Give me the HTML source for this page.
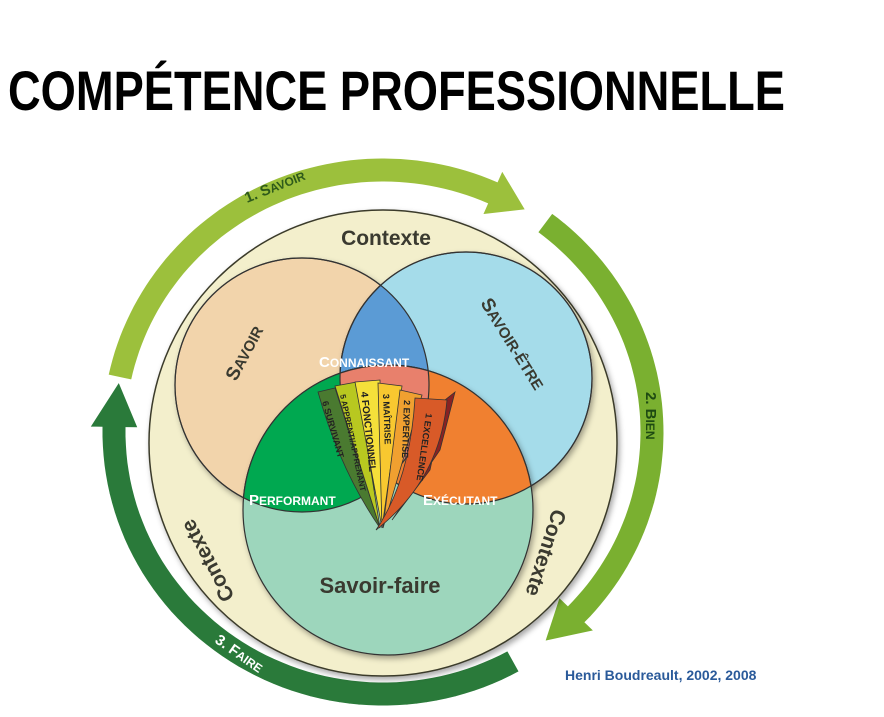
<!DOCTYPE html>
<html><head><meta charset="utf-8"><style>
html,body{margin:0;padding:0;background:#fff;width:884px;height:717px;overflow:hidden}
svg{display:block}
</style></head><body>
<svg id="s" width="884" height="717" viewBox="0 0 884 717" xmlns="http://www.w3.org/2000/svg" font-family="Liberation Sans, sans-serif">
<defs>
<clipPath id="cS"><circle cx="302" cy="385" r="127"/></clipPath>
<clipPath id="cE"><circle cx="466" cy="378" r="126"/></clipPath>
<clipPath id="cF"><circle cx="388" cy="510" r="145"/></clipPath>
<filter id="sh" x="-10%" y="-10%" width="120%" height="120%"><feDropShadow dx="2" dy="3" stdDeviation="3" flood-opacity="0.35"/></filter>
</defs>
<text x="8" y="110" font-size="56" font-weight="bold" textLength="777" lengthAdjust="spacingAndGlyphs" fill="#000">COMPÉTENCE PROFESSIONNELLE</text>
<g id="arrows"></g>
<ellipse cx="383" cy="443" rx="234" ry="233" fill="#f3efcc" stroke="#3a3a2a" stroke-width="1.5" filter="url(#sh)"/>
<circle cx="302" cy="385" r="127" fill="#f2d4ab" stroke="#333" stroke-width="1.2" filter="url(#sh)"/>
<circle cx="466" cy="378" r="126" fill="#a5dcea" stroke="#333" stroke-width="1.2" filter="url(#sh)"/>
<circle cx="388" cy="510" r="145" fill="#9dd6bc" stroke="#333" stroke-width="1.2" filter="url(#sh)"/>
<circle cx="466" cy="378" r="126" fill="#5b9bd5" stroke="#333" stroke-width="1.2" clip-path="url(#cS)"/>
<circle cx="388" cy="510" r="145" fill="#00a850" stroke="#333" stroke-width="1.2" clip-path="url(#cS)"/>
<circle cx="388" cy="510" r="145" fill="#f08030" stroke="#333" stroke-width="1.2" clip-path="url(#cE)"/>
<g clip-path="url(#cS)"><g clip-path="url(#cE)"><circle cx="388" cy="510" r="145" fill="#e8806c" stroke="#333" stroke-width="1.2"/></g></g>
<circle cx="302" cy="385" r="127" fill="none" stroke="#333" stroke-width="1.2"/>
<circle cx="466" cy="378" r="126" fill="none" stroke="#333" stroke-width="1.2"/>
<!-- fan -->
<g stroke="#333" stroke-width="0.8">
<polygon points="455,392 445,400 430,470 392,520 440,450" fill="#8a2222"/>
<path d="M318,392 L335,388 L380,528 Q340,470 318,392Z" fill="#4a7a30"/>
<path d="M335,386 L357,382 L380,528 L380,528Z" fill="#b8c820"/>
<path d="M355,382 L380,380 L382,528Z" fill="#f5e03a"/>
<path d="M378,383 L402,386 L382,528Z" fill="#f8c830"/>
<path d="M400,390 L422,395 L383,528Z" fill="#f0a030"/>
<path d="M415,398 L447,400 Q440,480 376,530 Q410,480 415,398Z" fill="#d85a28"/>
</g>
<g font-size="9" font-weight="bold" fill="#222">
<text transform="translate(322,402) rotate(74)">6 SURVIVANT</text>
<text transform="translate(340,395) rotate(78)" font-size="8">5 APPRENTI/APPRENANT</text>
<text transform="translate(361,392) rotate(84)" font-size="10">4 FONCTIONNEL</text>
<text transform="translate(383,394) rotate(88)">3 MAÎTRISE</text>
<text transform="translate(404,400) rotate(92)">2 EXPERTISE</text>
<text transform="translate(426,413) rotate(98)">1 EXCELLENCE</text>
</g>
<g font-weight="bold" fill="#fff" font-size="15">
<text x="319" y="367">C<tspan font-size="12">ONNAISSANT</tspan></text>
<text x="249" y="505">P<tspan font-size="12">ERFORMANT</tspan></text>
<text x="423" y="505">E<tspan font-size="12">XÉCUTANT</tspan></text>
</g>
<g font-weight="bold" fill="#3a3a30">
<text x="386" y="245" font-size="21" text-anchor="middle">Contexte</text>
<text x="380" y="593" font-size="22" text-anchor="middle">Savoir-faire</text>
<text transform="translate(236,382) rotate(-62)" font-size="19">S<tspan font-size="15">AVOIR</tspan></text>
<text transform="translate(480,303) rotate(58)" font-size="19">S<tspan font-size="15">AVOIR-ÊTRE</tspan></text>
<text transform="translate(235,597) rotate(-118)" font-size="21">Contexte</text>
<text transform="translate(553,508) rotate(108)" font-size="21">Contexte</text>
</g>
<g font-weight="bold" font-size="15">
<text transform="translate(247,203) rotate(-22)" fill="#2e5a1a">1. S<tspan font-size="12">AVOIR</tspan></text>
<text transform="translate(646,392) rotate(90)" fill="#1e4a12">2. B<tspan font-size="12">IEN</tspan></text>
<text transform="translate(214,642) rotate(35)" fill="#fff">3. F<tspan font-size="12">AIRE</tspan></text>
</g>
<text x="565" y="680" font-size="14" font-weight="bold" fill="#2a5a9a">Henri Boudreault, 2002, 2008</text>
</svg>
<script>
(function(){
var cx=383,cy=432,rx=269,ry=262,g=document.getElementById('arrows');
function p(o,a){a=a*Math.PI/180;return (cx+(rx+o)*Math.cos(a)).toFixed(1)+','+(cy-(ry+o)*Math.sin(a)).toFixed(1);}
function arc(o,a0,a1){var s='',n=60;for(var i=0;i<=n;i++){s+=' L'+p(o,a0+(a1-a0)*i/n);}return s;}
function arrow(a0,a1,tip,col){
 var d='M'+p(12,a0)+arc(12,a0,a1)+' L'+p(24,a1)+' L'+p(0,tip)+' L'+p(-24,a1)+' L'+p(-12,a1)+arc(-12,a1,a0)+' Z';
 var e=document.createElementNS('http://www.w3.org/2000/svg','path');
 e.setAttribute('d',d);e.setAttribute('fill',col);e.setAttribute('stroke','#fff');e.setAttribute('stroke-width','1');
 g.appendChild(e);
}
arrow(168,66,58,'#9cc03c');
arrow(53,-44,-53,'#7ab030');
arrow(-61,-181,-191,'#2a7a3a');
})();
</script>
</body></html>
